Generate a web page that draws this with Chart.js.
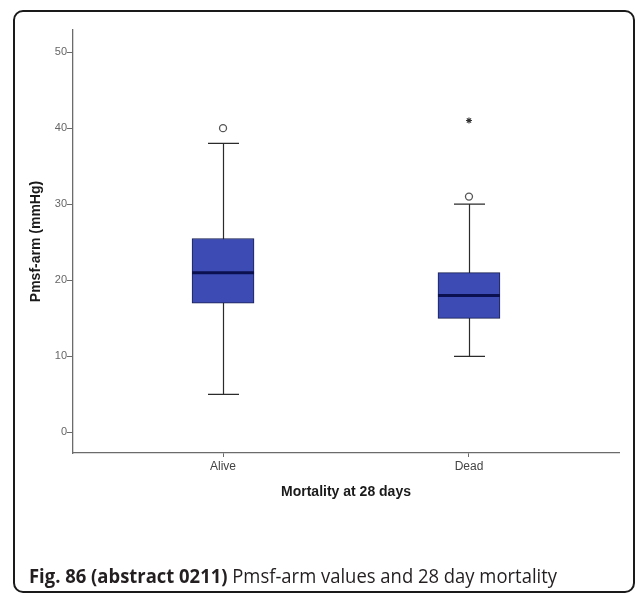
<!DOCTYPE html>
<html>
<head>
<meta charset="utf-8">
<script src="https://cdn.jsdelivr.net/npm/chart.js@4/dist/chart.umd.min.js"></script>
<style>
  html, body { margin: 0; padding: 0; background: #fff; }
  #wrap { position: relative; width: 637px; height: 594px; overflow: hidden; }
  #frame {
    position: absolute; left: 13px; top: 10px; width: 622px; height: 583px;
    box-sizing: border-box; border: 2px solid #1a1a1a; border-radius: 10px;
  }
  #chartBox { position: absolute; left: 0; top: 0; width: 637px; height: 594px; }
  #caption {
    position: absolute; left: 29px; top: 564px; white-space: nowrap;
    font-family: "Open Sans", "Noto Sans", sans-serif; font-size: 20px; line-height: 24px;
    color: #231f20; transform-origin: 0 0;
  }
  #caption b { font-weight: 700; }
</style>
</head>
<body>
<div id="wrap">
  <div id="frame"></div>
  <div id="chartBox"><canvas id="chart"></canvas></div>
  <div id="caption"><b>Fig. 86 (abstract 0211)</b> Pmsf-arm values and 28 day mortality</div>
</div>
<script>
// box plot values
const categories = ['Alive', 'Dead'];
const lowerWhisker = [5, 10];
const q1 = [17, 15];
const median = [21, 18];
const q3 = [25.5, 21];
const upperWhisker = [38, 30];
const outliers = [[40], [31]];
const extremes = [[], [41]];
const yTicks = [0, 10, 20, 30, 40, 50];

const xPos = categories.map((c, i) => i + 1);

const outlierPoints = [];
const extremePoints = [];
xPos.forEach((x, i) => {
    outliers[i].forEach(v => outlierPoints.push({ x: x, y: v }));
    extremes[i].forEach(v => extremePoints.push({ x: x, y: v }));
});

// whiskers under the boxes, medians on top
const whiskerPlugin = {
    id: 'whiskers',
    beforeDatasetsDraw(chart) {
        const { ctx, scales: { x, y } } = chart;
        ctx.save();
        ctx.strokeStyle = '#2b2b2b';
        ctx.lineWidth = 1.2;
        xPos.forEach((v, i) => {
            const px = Math.round(x.getPixelForValue(v)) + 0.5;
            const half = 15.5;
            const yLo = y.getPixelForValue(lowerWhisker[i]);
            const yHi = y.getPixelForValue(upperWhisker[i]);
            ctx.beginPath();
            ctx.moveTo(px, yLo);
            ctx.lineTo(px, yHi);
            ctx.moveTo(px - half, yLo);
            ctx.lineTo(px + half, yLo);
            ctx.moveTo(px - half, yHi);
            ctx.lineTo(px + half, yHi);
            ctx.stroke();
        });
        ctx.restore();
    },
    afterDatasetsDraw(chart) {
        const { ctx, scales: { y } } = chart;
        const meta = chart.getDatasetMeta(0);
        ctx.save();
        ctx.strokeStyle = '#0b1150';
        ctx.lineWidth = 3;
        xPos.forEach((v, i) => {
            const bar = meta.data[i];
            const half = bar.width / 2;
            const py = y.getPixelForValue(median[i]);
            ctx.beginPath();
            ctx.moveTo(bar.x - half, py);
            ctx.lineTo(bar.x + half, py);
            ctx.stroke();
        });
        ctx.restore();
    }
};

const ctx = document.getElementById('chart');

new Chart(ctx, {
    type: 'bar',
    data: {
        datasets: [
            {
                label: 'box',
                data: xPos.map((x, i) => ({ x: x, y: [q1[i], q3[i]] })),
                backgroundColor: '#3c4cb4',
                borderColor: '#1a1f4f',
                borderWidth: 1,
                borderSkipped: false,
                barThickness: 62,
                order: 2
            },
            {
                type: 'scatter',
                label: 'outliers',
                data: outlierPoints,
                pointStyle: 'circle',
                radius: 3.5,
                backgroundColor: '#fff',
                borderColor: '#555',
                borderWidth: 1.3,
                order: 1
            },
            {
                type: 'scatter',
                label: 'extremes',
                data: extremePoints,
                pointStyle: 'star',
                radius: 3,
                backgroundColor: '#333',
                borderColor: '#333',
                borderWidth: 1.1,
                order: 1
            }
        ]
    },
    options: {
        responsive: true,
        maintainAspectRatio: false,
        animation: false,
        layout: {
            padding: { left: 0, top: 30, right: 18, bottom: 81 }
        },
        scales: {
            x: {
                type: 'linear',
                min: 0.39,
                max: 2.61,
                offset: false,
                afterBuildTicks: scale => { scale.ticks = xPos.map(v => ({ value: v })); },
                afterFit: scale => { scale.height = 60; },
                grid: { offset: false, drawOnChartArea: false, drawTicks: true, tickLength: 4, color: '#6b6b6b' },
                border: { display: true, color: '#6b6b6b', width: 1.3 },
                ticks: {
                    callback: v => categories[v - 1],
                    color: '#444',
                    padding: 2,
                    font: { family: 'Liberation Sans, Arial, sans-serif', size: 12 }
                },
                title: {
                    display: true,
                    text: 'Mortality at 28 days',
                    color: '#1a1a1a',
                    padding: { top: 0, bottom: 12 },
                    font: { family: 'Liberation Sans, Arial, sans-serif', size: 14, weight: 'bold' }
                }
            },
            y: {
                min: -2.7,
                max: 52.9,
                afterBuildTicks: scale => { scale.ticks = yTicks.map(v => ({ value: v })); },
                afterFit: scale => { scale.width = 73; },
                grid: { drawOnChartArea: false, drawTicks: true, tickLength: 6, color: '#6b6b6b' },
                border: { display: true, color: '#6b6b6b', width: 1.3 },
                ticks: {
                    color: '#666',
                    padding: 0,
                    font: { family: 'Liberation Sans, Arial, sans-serif', size: 11 }
                },
                title: {
                    display: true,
                    text: 'Pmsf-arm (mmHg)',
                    color: '#1a1a1a',
                    padding: { top: 28, bottom: 0 },
                    font: { family: 'Liberation Sans, Arial, sans-serif', size: 14, weight: 'bold' }
                }
            }
        },
        plugins: {
            legend: { display: false },
            tooltip: { enabled: false }
        }
    },
    plugins: [whiskerPlugin]
});

// squeeze the caption to the width it has in the figure
const cap = document.getElementById('caption');
const w = cap.getBoundingClientRect().width;
cap.style.transform = 'scaleX(' + (528 / w) + ')';
</script>
</body>
</html>
